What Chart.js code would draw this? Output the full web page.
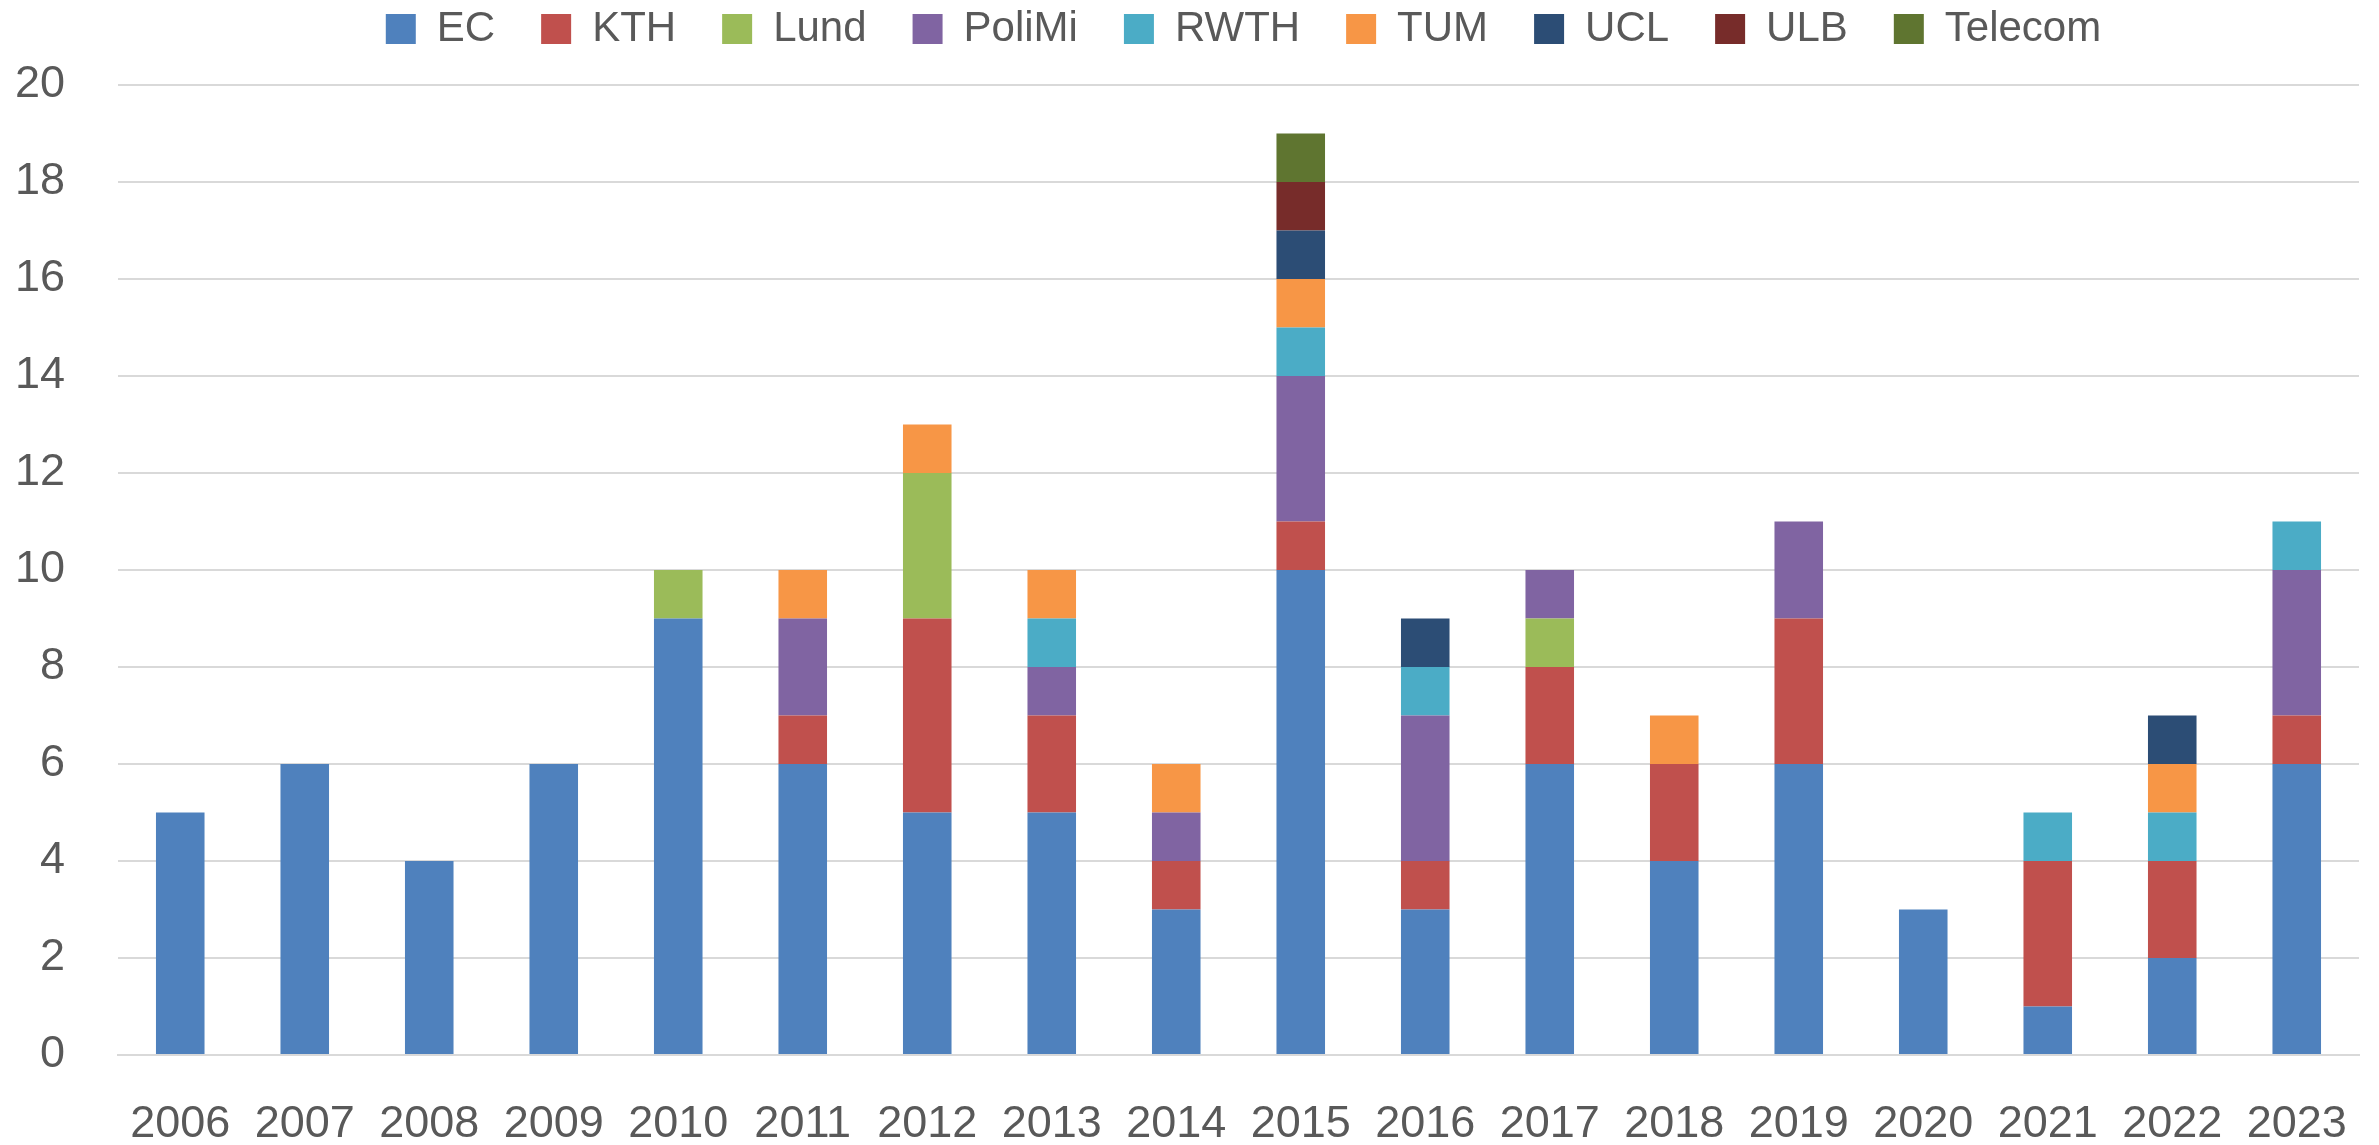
<!DOCTYPE html>
<html>
<head>
<meta charset="utf-8">
<style>
    body { margin: 0; background: #fff; }
    canvas { display: block; }
</style>
</head>
<body>
<!-- canvas for the chart, same size as the window -->
<canvas id="myChart" width="2379" height="1145"></canvas>
<script src="https://cdn.jsdelivr.net/npm/chart.js@4.4.1/dist/chart.umd.min.js"></script>
<script>
    // years on the x axis
    const years = ['2006', '2007', '2008', '2009', '2010', '2011', '2012', '2013', '2014',
                   '2015', '2016', '2017', '2018', '2019', '2020', '2021', '2022', '2023']

    // one array per institution, stacked bottom to top
    const EC      = [5, 6, 4, 6, 9, 6, 5, 5, 3, 10, 3, 6, 4, 6, 3, 1, 2, 6]
    const KTH     = [0, 0, 0, 0, 0, 1, 4, 2, 1, 1, 1, 2, 2, 3, 0, 3, 2, 1]
    const Lund    = [0, 0, 0, 0, 1, 0, 3, 0, 0, 0, 0, 1, 0, 0, 0, 0, 0, 0]
    const PoliMi  = [0, 0, 0, 0, 0, 2, 0, 1, 1, 3, 3, 1, 0, 2, 0, 0, 0, 3]
    const RWTH    = [0, 0, 0, 0, 0, 0, 0, 1, 0, 1, 1, 0, 0, 0, 0, 1, 1, 1]
    const TUM     = [0, 0, 0, 0, 0, 1, 1, 1, 1, 1, 0, 0, 1, 0, 0, 0, 1, 0]
    const UCL     = [0, 0, 0, 0, 0, 0, 0, 0, 0, 1, 1, 0, 0, 0, 0, 0, 1, 0]
    const ULB     = [0, 0, 0, 0, 0, 0, 0, 0, 0, 1, 0, 0, 0, 0, 0, 0, 0, 0]
    const Telecom = [0, 0, 0, 0, 0, 0, 0, 0, 0, 1, 0, 0, 0, 0, 0, 0, 0, 0]

    // y axis ticks
    const yMin = 0
    const yMax = 20
    const yStep = 2

    const textColor = '#595959'
    const gridColor = '#d9d9d9'
    const fontFamily = "'Liberation Sans', Arial, sans-serif"

    const series = [
        ['EC', EC, '#4f81bd'],
        ['KTH', KTH, '#c0504d'],
        ['Lund', Lund, '#9bbb59'],
        ['PoliMi', PoliMi, '#8064a2'],
        ['RWTH', RWTH, '#4bacc6'],
        ['TUM', TUM, '#f79646'],
        ['UCL', UCL, '#2c4d75'],
        ['ULB', ULB, '#772c2a'],
        ['Telecom', Telecom, '#5f7530']
    ]

    // nudge the legend row so it sits where the original one does
    const legendNudge = {
        id: 'legendNudge',
        afterLayout(chart) {
            chart.legend.top = -38
            chart.legend.left += 113
        }
    }

    const ctx = document.getElementById('myChart')
    const myChart = new Chart(ctx, {
        type: 'bar',
        data: {
            labels: years,
            datasets: series.map(([label, values, color]) => ({
                label: label,
                data: values,
                backgroundColor: color,
                borderWidth: 0,
                barPercentage: 0.39,
                categoryPercentage: 1
            }))
        },
        options: {
            responsive: false,
            animation: false,
            layout: {
                padding: { left: 15, right: 20, top: 0, bottom: 0 }
            },
            plugins: {
                legend: {
                    position: 'top',
                    maxHeight: 85,
                    labels: {
                        boxWidth: 30,
                        boxHeight: 30,
                        padding: 46,
                        color: textColor,
                        font: { family: fontFamily, size: 42 }
                    }
                },
                tooltip: { enabled: false }
            },
            scales: {
                x: {
                    stacked: true,
                    grid: { display: false, drawTicks: false },
                    border: { display: true, color: gridColor, width: 2 },
                    ticks: {
                        color: textColor,
                        padding: 47,
                        maxRotation: 0,
                        autoSkip: false,
                        font: { family: fontFamily, size: 45, lineHeight: 1 }
                    },
                    // fixed height for the year row, no extra side room for labels
                    afterFit(scale) {
                        scale.height = 90
                        scale.paddingLeft = 0
                        scale.paddingRight = 0
                    }
                },
                y: {
                    stacked: true,
                    min: yMin,
                    max: yMax,
                    grid: { color: gridColor, lineWidth: 2, drawTicks: false },
                    border: { display: false },
                    ticks: {
                        stepSize: yStep,
                        color: textColor,
                        padding: 53,
                        font: { family: fontFamily, size: 45 }
                    },
                    afterFit(scale) { scale.width = 103 }
                }
            }
        },
        plugins: [legendNudge]
    })
</script>
</body>
</html>
